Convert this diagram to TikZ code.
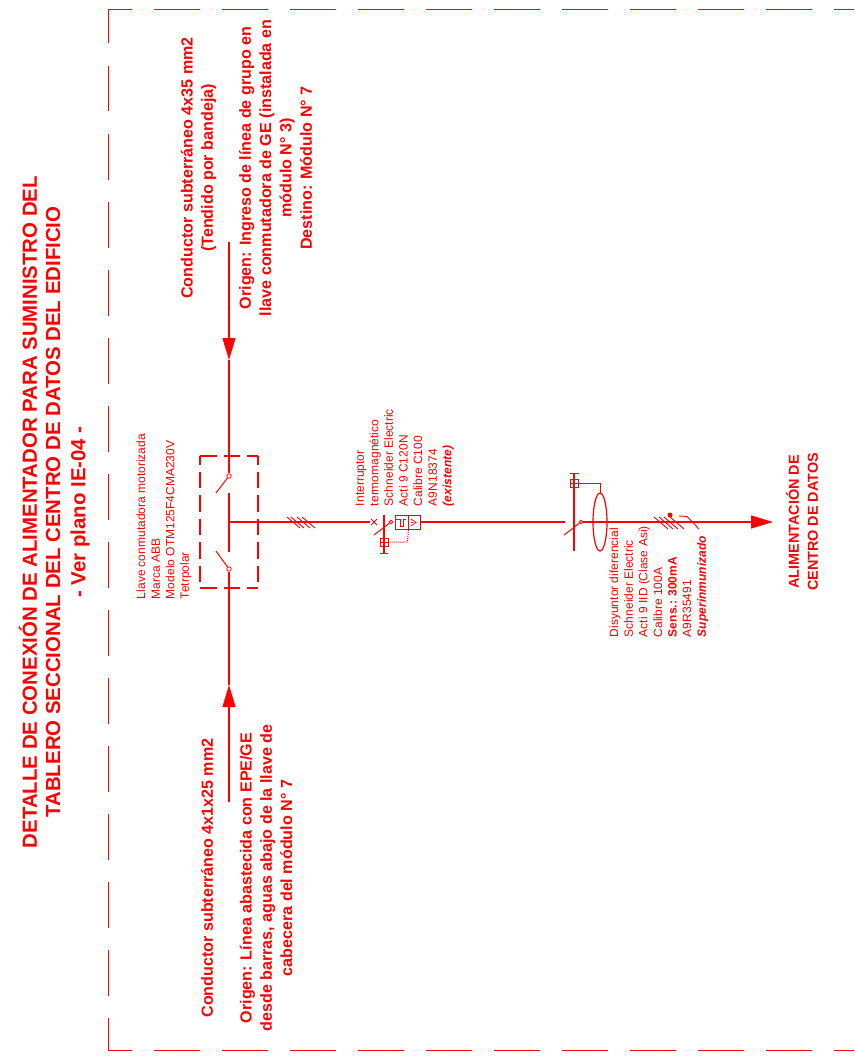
\documentclass[tikz,border=0pt]{standalone}
\usepackage{fontspec}
\setmainfont{Liberation Sans}
\usetikzlibrary{arrows.meta}
\definecolor{cadred}{RGB}{255,0,0}
\tikzset{
  x=1pt,y=-1pt,
  every path/.style={draw=cadred,line width=1pt},
  wire/.style={draw=cadred,line width=1.1pt},
  thin line/.style={draw=cadred,line width=1pt},
  hatch/.style={draw=cadred,line width=0.9pt},
  dashbox/.style={draw=cadred,line width=0.9pt,dash pattern=on 45.5pt off 22.5pt},
  boxdash/.style={draw=cadred,line width=1.2pt,dash pattern=on 16.5pt off 7pt},
  bigarrow/.style={wire,-{Triangle[length=22pt,width=13pt,fill=cadred]}},
  txt/.style={text=cadred,rotate=90,inner sep=0pt,outer sep=0pt,draw=none},
  title/.style={txt,anchor=center,font=\fontsize{20.4}{25}\selectfont\bfseries,align=center},
  note/.style={txt,anchor=center,font=\fontsize{16.1}{20.3}\selectfont\bfseries,align=center},
  small/.style={txt,anchor=north west,font=\fontsize{12}{14.6}\selectfont,align=left},
  smallbold/.style={txt,anchor=center,font=\fontsize{14.4}{19}\selectfont\bfseries,align=center},
  dotnode/.style={circle,draw=cadred,fill=white,inner sep=0pt,minimum size=4.5pt,line width=0.8pt},
  crossbox/.style={rectangle,draw=cadred,inner sep=0pt,minimum size=8pt,line width=0.9pt},
}
\begin{document}
\begin{tikzpicture}
\useasboundingbox[draw=none] (0,0) rectangle (854,1062);
% frame
\coordinate (fa) at (854,9);
\coordinate (fb) at (108,9);
\coordinate (fc) at (108,1050);
\coordinate (fd) at (854,1050);
\draw[dashbox,dash phase=22pt] (fb) -- (fa);
\draw[dashbox,dash phase=11pt] (fb) -- (fc);
\draw[dashbox,dash phase=22pt] (fc) -- (fd);
% titles
\node[title] (t1) at (28,512) {DETALLE DE CONEXIÓN DE ALIMENTADOR PARA SUMINISTRO DEL};
\node[title] (t2) at (53,512) {TABLERO SECCIONAL DEL CENTRO DE DATOS DEL EDIFICIO};
\node[title] (t3) at (80,512) {- Ver plano IE-04 -};
% top notes
\node[note] (n1) at (198.5,168) {Conductor subterráneo 4x35 mm2\\(Tendido por bandeja)};
\node[note] (n2) at (275.5,168) {Origen: Ingreso de línea de grupo en\\llave conmutadora de GE (instalada en\\módulo N° 3)\\Destino: Módulo N° 7};
% bottom notes
\node[note] (n3) at (207,878) {Conductor subterráneo 4x1x25 mm2};
\node[note] (n4) at (266,878) {Origen: Línea abastecida con EPE/GE\\desde barras, aguas abajo de la llave de\\cabecera del módulo N° 7};
% equipment labels
\node[small] (l1) at (136.5,599) {Llave conmutadora motorizada\\Marca ABB\\Modelo OTM125F4CMA230V\\Tetrpolar};
\node[small] (l2) at (355.5,506) {Interruptor\\termomagnético\\Schneider Electric\\Acti 9 C120N\\Calibre C100\\A9N18374\\{\bfseries\itshape (existente)}};
\node[small] (l3) at (609.5,637) {Disyuntor diferencial\\Schneider Electric\\Acti 9 IID (Clase Asi)\\Calibre 100A\\{\bfseries Sens.: 300mA}\\A9R35491\\{\bfseries\itshape Superinmunizado}};
\node[smallbold] (l4) at (802,522) {ALIMENTACIÓN DE\\CENTRO DE DATOS};
% feeders and switches
\coordinate (top) at (229,242);
\coordinate (toparrow) at (229,360);
\coordinate (bot) at (229,802);
\coordinate (botarrow) at (229,685);
\node[dotnode] (s1) at (229,476) {};
\node[dotnode] (s2) at (229,569) {};
\coordinate (b1) at (229,493);
\coordinate (b2) at (229,552);
\coordinate (bus) at (229,522);
\draw[bigarrow] (top) -- (toparrow);
\draw[bigarrow] (bot) -- (botarrow);
\draw[wire] (toparrow) -- (s1);
\draw[wire] (botarrow) -- (s2);
\draw[wire] (b1) -- (b2);
\draw[thin line] (s1) -- (216,493);
\draw[thin line] (s2) -- (216,551);
\coordinate (q1) at (200,456);
\coordinate (q2) at (258,456);
\coordinate (q3) at (258,588);
\coordinate (q4) at (200,588);
\draw[boxdash] (q1) -- (q2);
\draw[boxdash] (q4) -- (q3);
\draw[boxdash,dash phase=8pt] (q1) -- (q4);
\draw[boxdash,dash phase=8pt] (q2) -- (q3);
% hatches
\draw[hatch] (287,517) -- (300,528) (291,517) -- (304,528) (297,517) -- (310,528) (302,517) -- (315,528);
% breaker
\coordinate (brk) at (370,522);
\draw[wire] (bus) -- (brk);
\draw[thin line] (371,519) -- (377,525) (377,519) -- (371,525);
\draw[wire] (384,515) -- (384,553);
\draw[thin line] (380,553) -- (388,553);
\node[dotnode,minimum size=3.5pt] (s3) at (391,522) {};
\draw[thin line] (s3) -- (374,535);
\node[rectangle,draw=cadred,inner sep=0pt,minimum width=13pt,minimum height=14pt,line width=0.8pt] (r1) at (401.5,522) {};
\node[rectangle,draw=cadred,inner sep=0pt,minimum width=12pt,minimum height=14pt,line width=0.8pt] (r2) at (414,522) {};
\draw[line width=0.7pt] (396,519) -- (400,519) -- (400,526) -- (403,526) -- (403,519) -- (406,519);
\draw[line width=0.7pt] (411,519) -- (416,522.5) -- (411,526) (411,522.5) -- (413,522.5);
\node[crossbox] (c1) at (384,542) {};
\draw[line width=0.7pt] (c1.west) -- (c1.east) (c1.north) -- (c1.south);
\draw[draw=cadred,line width=1pt,densely dotted] (c1.east) -- (407.5,542) -- (r1.south east);
% main line to differential
\coordinate (dif) at (565,522);
\draw[wire] (r2.east) -- (dif);
% differential
\draw[wire] (574,473) -- (574,551);
\draw[thin line] (569.5,473) -- (578.5,473);
\node[dotnode,minimum size=3.5pt] (s4) at (581,522) {};
\draw[thin line] (s4) -- (564,535);
\node[crossbox] (c2) at (574,483) {};
\draw[line width=0.7pt] (c2.west) -- (c2.east) (c2.north) -- (c2.south);
\draw[thin line] (c2.east) -- (600,483) -- (600,493);
\draw[draw=cadred,line width=1.2pt] (600,522) ellipse [x radius=7,y radius=29];
\coordinate (tip) at (773,522);
\draw[bigarrow] (s4) -- (tip);
% output hatches
\draw[hatch] (654,517) -- (668,529) (659,517) -- (673,529) (664,517) -- (678,529) (670,517) -- (684,529);
\draw[hatch] (679,516) -- (687,516.5) -- (699,529);
\fill[cadred,draw=none] (670,515) circle (2.5);
\end{tikzpicture}
\end{document}
